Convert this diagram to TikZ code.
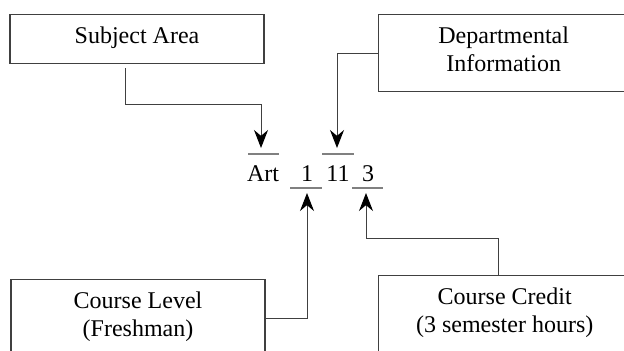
\documentclass[tikz,border=0pt]{standalone}
\usepackage{fontspec}
\setmainfont{Liberation Serif}
\usetikzlibrary{arrows.meta}

\begin{document}
\begin{tikzpicture}[x=0.5pt, y=-0.5pt, font=\fontsize{12}{14}\selectfont, >={Stealth[length=9pt, width=7pt, color=black]},
  box/.style={draw=black!75, line width=0.7pt, align=center, minimum width=127pt, inner ysep=6pt, text depth=4pt},
  conn/.style={->, draw=black!75, line width=0.5pt},
  bar/.style={draw=gray, line width=0.7pt}]
\useasboundingbox (0,0) rectangle (624,350);
% boxes
\node[box, anchor=north] (subj) at (137,14) {Subject Area};
\node[box, anchor=north west, minimum width=125pt] (dept) at (378,14) {Departmental\\Information};
\node[box, anchor=north] (level) at (138,279) {Course Level\\(Freshman)};
\node[box, anchor=north west, minimum width=126pt] (credit) at (378,275) {Course Credit\\(3 semester hours)};
% course number
\node[anchor=base] (art) at (263,181) {Art};
\node[anchor=base] (one) at (307,181) {1};
\node[anchor=base] (eleven) at (338,181) {11};
\node[anchor=base] (three) at (368,181) {3};
\draw[bar] (248,154) -- (279,154);
\draw[bar] (322,154) -- (354,154);
\draw[bar] (290,188) -- (322,188);
\draw[bar] (352,188) -- (383,188);
\coordinate (tArt) at (261,148);
\coordinate (tEleven) at (337,148);
\coordinate (tOne) at (307,193);
\coordinate (tThree) at (366,193);
% connectors
\draw[conn] ([xshift=-6pt, yshift=-2pt]subj.south) -- ++(0,36) -| (tArt);
\draw[conn] (dept.west) -| (tEleven);
\draw[conn] (level.east) -| (tOne);
\draw[conn] ([xshift=-3pt]credit.north) -- ++(0,-37) -| (tThree);
\end{tikzpicture}
\end{document}
